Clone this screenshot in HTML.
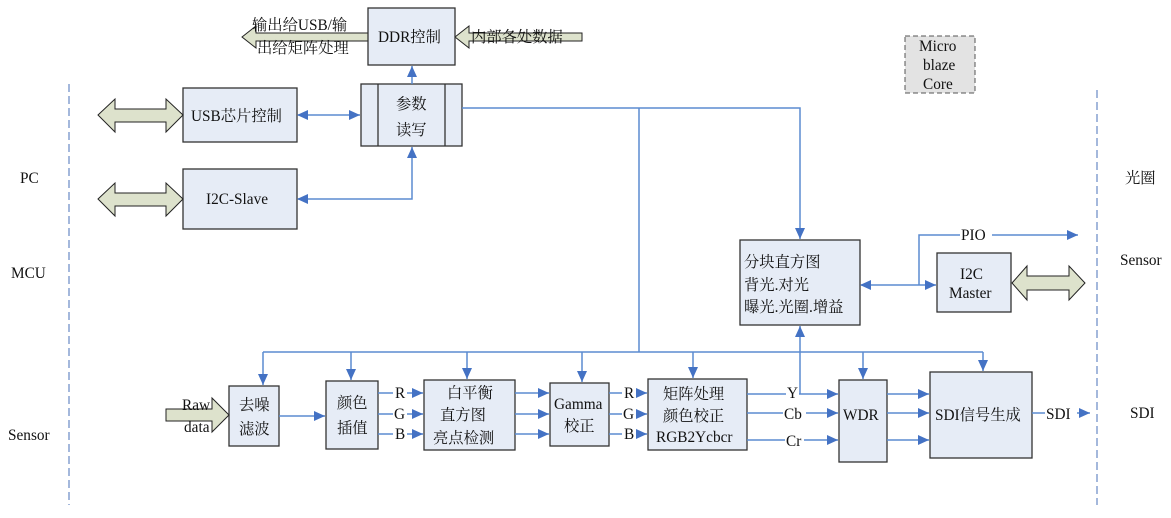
<!DOCTYPE html>
<html><head><meta charset="utf-8"><style>
body{margin:0;background:#fff}
svg{display:block}
text{font-family:"Liberation Serif","Noto Serif CJK SC","Noto Sans CJK SC",serif;font-size:15.3px;fill:#111}
.b{fill:#e6ecf6;stroke:#333;stroke-width:1.3}
.l{stroke:#5b8bd0;stroke-width:1.5;fill:none}
.f{fill:#dde2cc;stroke:#222;stroke-width:1}
</style></head><body>
<svg width="1171" height="518" viewBox="0 0 1171 518">
<defs>
<marker id="a" markerUnits="userSpaceOnUse" markerWidth="12" markerHeight="12" refX="11" refY="6" orient="auto"><path d="M0,1 L11,6 L0,11 z" fill="#4472c4"/></marker>
<marker id="s" markerUnits="userSpaceOnUse" markerWidth="12" markerHeight="12" refX="1" refY="6" orient="auto"><path d="M11,1 L0,6 L11,11 z" fill="#4472c4"/></marker>
</defs>
<line x1="69" y1="84" x2="69" y2="505" stroke="#4a72b8" stroke-width="1" stroke-dasharray="8,4"/>
<line x1="1097" y1="90" x2="1097" y2="505" stroke="#4a72b8" stroke-width="1" stroke-dasharray="8,4"/>
<text x="20" y="183">PC</text><text x="11" y="278">MCU</text><text x="8" y="440">Sensor</text>
<text x="1125" y="183">光圈</text><text x="1120" y="265">Sensor</text><text x="1130" y="418">SDI</text>

<path class="f" d="M242,37 L256,26 L256,33 L368,33 L368,41 L256,41 L256,48 z"/>
<text x="252" y="30">输出给USB/输</text><text x="257" y="53">出给矩阵处理</text>
<path class="f" d="M455,37 L469,26 L469,33 L582,33 L582,41 L469,41 L469,48 z"/>
<text x="471" y="42">内部各处数据</text>

<rect class="b" x="368" y="8" width="87" height="57"/><text x="378" y="42">DDR控制</text>
<rect class="b" x="361" y="84" width="101" height="62"/>
<line x1="378" y1="84" x2="378" y2="146" stroke="#333" stroke-width="1.3"/><line x1="445" y1="84" x2="445" y2="146" stroke="#333" stroke-width="1.3"/>
<text x="396" y="109">参数</text><text x="396" y="135">读写</text>
<rect class="b" x="183" y="88" width="114" height="54"/><text x="191" y="121">USB芯片控制</text>
<rect class="b" x="183" y="169" width="114" height="60"/><text x="206" y="204">I2C-Slave</text>
<rect x="905" y="36" width="70" height="57" fill="#e3e3e3" stroke="#555" stroke-dasharray="5,3"/>
<text x="919" y="51">Micro</text><text x="923" y="70">blaze</text><text x="923" y="89">Core</text>
<rect class="b" x="740" y="240" width="120" height="85"/>
<text x="744" y="267">分块直方图</text><text x="744" y="290">背光.对光</text><text x="744" y="312">曝光.光圈.增益</text>
<rect class="b" x="937" y="253" width="74" height="59"/><text x="960" y="279">I2C</text><text x="949" y="298">Master</text>
<rect class="b" x="229" y="386" width="50" height="60"/><text x="239" y="410">去噪</text><text x="239" y="434">滤波</text>
<rect class="b" x="326" y="381" width="52" height="68"/><text x="337" y="408">颜色</text><text x="337" y="433">插值</text>
<rect class="b" x="424" y="380" width="91" height="70"/><text x="447" y="398">白平衡</text><text x="440" y="420">直方图</text><text x="433" y="443">亮点检测</text>
<rect class="b" x="550" y="383" width="59" height="63"/><text x="554" y="409">Gamma</text><text x="564" y="431">校正</text>
<rect class="b" x="648" y="379" width="99" height="71"/><text x="663" y="399">矩阵处理</text><text x="663" y="421">颜色校正</text><text x="656" y="442">RGB2Ycbcr</text>
<rect class="b" x="839" y="380" width="48" height="82"/><text x="843" y="420">WDR</text>
<rect class="b" x="930" y="372" width="102" height="86"/><text x="935" y="420">SDI信号生成</text>

<path class="f" d="M98,115 L115,99 L115,109 L166,109 L166,99 L183,115 L166,132 L166,122 L115,122 L115,132 z"/>
<path class="f" d="M98,199 L115,183 L115,193 L166,193 L166,183 L183,199 L166,216 L166,206 L115,206 L115,216 z"/>
<path class="f" d="M1012,283 L1027,266 L1027,276 L1069,276 L1069,266 L1085,283 L1069,300 L1069,290 L1027,290 L1027,300 z"/>
<path class="f" d="M166,409 L212,409 L212,398 L229,415 L212,432 L212,421 L166,421 z"/>
<text x="182" y="410">Raw</text><text x="184" y="432">data</text>

<line class="l" x1="412" y1="84" x2="412" y2="66" marker-end="url(#a)"/>
<line class="l" x1="298" y1="115" x2="360" y2="115" marker-start="url(#s)" marker-end="url(#a)"/>
<polyline class="l" points="298,199 412,199 412,147" marker-start="url(#s)" marker-end="url(#a)"/>
<polyline class="l" points="462,108 800,108 800,239" marker-end="url(#a)"/>
<line class="l" x1="639" y1="108" x2="639" y2="352"/>
<line class="l" x1="263" y1="352" x2="983" y2="352"/>
<line class="l" x1="263" y1="352" x2="263" y2="385" marker-end="url(#a)"/>
<line class="l" x1="351" y1="352" x2="351" y2="380" marker-end="url(#a)"/>
<line class="l" x1="467" y1="352" x2="467" y2="379" marker-end="url(#a)"/>
<line class="l" x1="582" y1="352" x2="582" y2="382" marker-end="url(#a)"/>
<line class="l" x1="693" y1="352" x2="693" y2="378" marker-end="url(#a)"/>
<line class="l" x1="863" y1="352" x2="863" y2="379" marker-end="url(#a)"/>
<line class="l" x1="983" y1="352" x2="983" y2="371" marker-end="url(#a)"/>
<polyline class="l" points="800,394 800,326" marker-end="url(#a)"/>
<line class="l" x1="861" y1="285" x2="936" y2="285" marker-start="url(#s)" marker-end="url(#a)"/>
<polyline class="l" points="919,285 919,235 1078,235" marker-end="url(#a)"/>
<rect x="960" y="227" width="32" height="16" fill="#fff"/><text x="961" y="240">PIO</text>

<line class="l" x1="279" y1="416" x2="325" y2="416" marker-end="url(#a)"/>
<line class="l" x1="378" y1="393" x2="423" y2="393" marker-end="url(#a)"/>
<line class="l" x1="378" y1="414" x2="423" y2="414" marker-end="url(#a)"/>
<line class="l" x1="378" y1="434" x2="423" y2="434" marker-end="url(#a)"/>
<rect x="393" y="385" width="14" height="55" fill="#fff"/>
<text x="395" y="398">R</text><text x="394" y="419">G</text><text x="395" y="439">B</text>
<line class="l" x1="515" y1="393" x2="549" y2="393" marker-end="url(#a)"/>
<line class="l" x1="515" y1="414" x2="549" y2="414" marker-end="url(#a)"/>
<line class="l" x1="515" y1="434" x2="549" y2="434" marker-end="url(#a)"/>
<line class="l" x1="609" y1="393" x2="647" y2="393" marker-end="url(#a)"/>
<line class="l" x1="609" y1="414" x2="647" y2="414" marker-end="url(#a)"/>
<line class="l" x1="609" y1="434" x2="647" y2="434" marker-end="url(#a)"/>
<rect x="622" y="385" width="14" height="55" fill="#fff"/>
<text x="624" y="398">R</text><text x="623" y="419">G</text><text x="624" y="439">B</text>
<line class="l" x1="747" y1="394" x2="838" y2="394" marker-end="url(#a)"/>
<line class="l" x1="747" y1="413" x2="838" y2="413" marker-end="url(#a)"/>
<line class="l" x1="747" y1="440" x2="838" y2="440" marker-end="url(#a)"/>
<rect x="786" y="384" width="13" height="14" fill="#fff"/><text x="787" y="398">Y</text>
<rect x="783" y="405" width="23" height="14" fill="#fff"/><text x="784" y="419">Cb</text>
<rect x="785" y="432" width="19" height="14" fill="#fff"/><text x="786" y="446">Cr</text>
<line class="l" x1="887" y1="394" x2="929" y2="394" marker-end="url(#a)"/>
<line class="l" x1="887" y1="413" x2="929" y2="413" marker-end="url(#a)"/>
<line class="l" x1="887" y1="440" x2="929" y2="440" marker-end="url(#a)"/>
<line class="l" x1="1032" y1="413" x2="1090" y2="413" marker-end="url(#a)"/>
<rect x="1045" y="405" width="32" height="16" fill="#fff"/><text x="1046" y="419">SDI</text>
</svg>
</body></html>
